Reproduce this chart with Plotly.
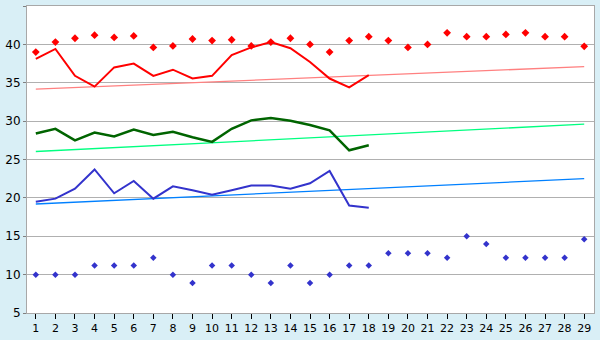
import plotly.graph_objects as go

days = list(range(1, 30))
max_pts = [39.0, 40.3, 40.8, 41.2, 40.9, 41.1, 39.6, 39.8, 40.7, 40.5, 40.6, 39.8, 40.3, 40.8,
           40.0, 39.0, 40.5, 41.0, 40.5, 39.6, 40.0, 41.5, 41.0, 41.0, 41.3, 41.5, 41.0, 41.0, 39.75]
min_pts = [10.0, 10.0, 10.0, 11.2, 11.2, 11.2, 12.2, 10.0, 8.9, 11.2, 11.2, 10.0, 8.9, 11.2,
           8.9, 10.0, 11.2, 11.2, 12.8, 12.8, 12.8, 12.2, 15.0, 14.0, 12.2, 12.2, 12.2, 12.2, 14.6]
line_days = list(range(1, 19))
red_line = [38.1, 39.4, 35.9, 34.5, 37.0, 37.5, 35.9, 36.7, 35.55, 35.9, 38.6, 39.6, 40.3, 39.5,
            37.7, 35.55, 34.4, 36.0]
green_line = [28.4, 29.0, 27.5, 28.5, 28.0, 28.9, 28.2, 28.6, 27.9, 27.3, 29.0, 30.1, 30.4, 30.05,
              29.5, 28.8, 26.2, 26.85]
blue_line = [19.5, 19.9, 21.2, 23.7, 20.6, 22.2, 19.9, 21.5, 21.0, 20.4, 21.0, 21.6, 21.6, 21.2,
             21.9, 23.5, 19.0, 18.7]
trend_days = [1, 29]
trend_red = [34.16, 37.1]
trend_green = [26.04, 29.6]
trend_blue = [19.2, 22.5]

fig = go.Figure()
fig.add_trace(go.Scatter(x=trend_days, y=trend_red, mode="lines", line=dict(color="#ff8080", width=1.3)))
fig.add_trace(go.Scatter(x=trend_days, y=trend_green, mode="lines", line=dict(color="#00ff80", width=1.3)))
fig.add_trace(go.Scatter(x=trend_days, y=trend_blue, mode="lines", line=dict(color="#0080ff", width=1.3)))
fig.add_trace(go.Scatter(x=line_days, y=red_line, mode="lines", line=dict(color="#ff0000", width=2)))
fig.add_trace(go.Scatter(x=line_days, y=green_line, mode="lines", line=dict(color="#006400", width=2.5)))
fig.add_trace(go.Scatter(x=line_days, y=blue_line, mode="lines", line=dict(color="#3333cc", width=2)))
fig.add_trace(go.Scatter(x=days, y=max_pts, mode="markers",
                         marker=dict(symbol="diamond", size=6, color="#ff0000")))
fig.add_trace(go.Scatter(x=days, y=min_pts, mode="markers",
                         marker=dict(symbol="diamond", size=5, color="#3333cc")))

fig.update_layout(
    width=600, height=340,
    margin=dict(l=21, r=5, t=5, b=20),
    paper_bgcolor="#d9eff6", plot_bgcolor="#ffffff",
    showlegend=False,
    font=dict(family="DejaVu Sans", size=11, color="#000000"),
)
fig.update_xaxes(range=[0.55, 29.5], tickmode="array", tickvals=days, ticktext=[str(d) for d in days],
                 showgrid=False, zeroline=False, showline=True, linecolor="#a8a8a8", linewidth=1,
                 mirror=True, ticks="outside", ticklen=5, tickcolor="#000000", tickfont=dict(size=11))
fig.update_yaxes(range=[5, 45], dtick=5, showgrid=True, gridcolor="#b0b0b0", gridwidth=1,
                 zeroline=False, showline=True, linecolor="#a8a8a8", linewidth=1, mirror=True,
                 ticks="outside", ticklen=3, tickcolor="#808080", tickfont=dict(size=12))

fig.write_html("out.html")
